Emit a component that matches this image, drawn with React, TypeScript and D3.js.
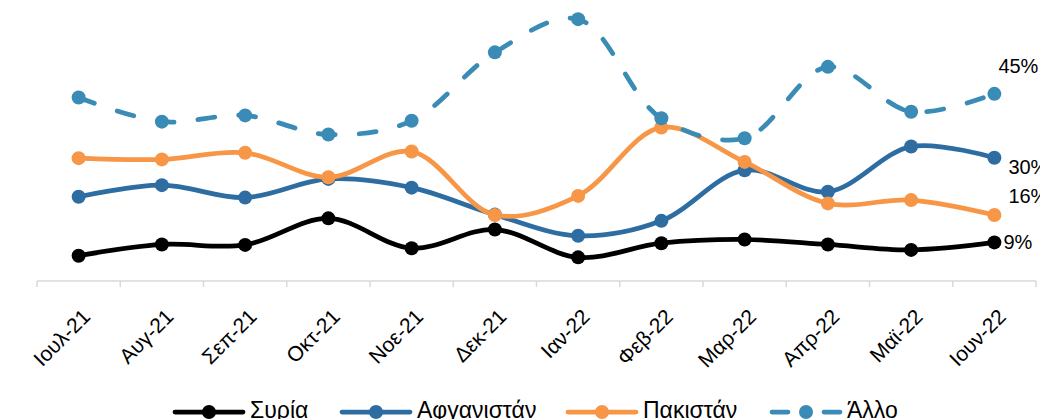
import React from "react";
import * as d3 from "d3";

const months = ["Ιουλ-21", "Αυγ-21", "Σεπ-21", "Οκτ-21", "Νοε-21", "Δεκ-21", "Ιαν-22", "Φεβ-22", "Μαρ-22", "Απρ-22", "Μαϊ-22", "Ιουν-22"];
const syria = [6.1, 8.8, 8.7, 15.1, 7.9, 12.4, 5.7, 9.1, 10.0, 8.8, 7.5, 9.3];
const afghanistan = [20.3, 23.1, 20.1, 24.6, 22.5, 16.0, 10.9, 14.5, 26.7, 21.5, 32.4, 29.7];
const pakistan = [29.6, 29.3, 30.9, 25.0, 31.2, 15.9, 20.5, 37.0, 28.7, 18.7, 19.5, 15.9];
const other = [44.2, 38.4, 39.9, 35.3, 38.6, 55.1, 63.1, 39.2, 34.4, 51.6, 40.8, 45.1];

const seriesNames = ["Συρία", "Αφγανιστάν", "Πακιστάν", "Άλλο"];
const seriesValues = [syria, afghanistan, pakistan, other];
const seriesColors = ["#000000", "#2E6DA2", "#F79646", "#3A8BB5"];
const seriesDashed = [false, false, false, true];
// end label offsets (dx, dy) relative to last point
const labelOffsets: [number, number][] = [[9, 7], [14, 16], [14, -12], [4, -21]];
const legendX = [175, 342, 568, 772];

const FONT = "'Liberation Sans', Arial, sans-serif";

export default function App() {
  const width = 1040;
  const height = 419;
  const x = d3.scaleBand<string>().domain(months).range([37, 1036]);
  const y = d3.scaleLinear().domain([0, 60]).range([281, 281 - 60 * 4.15]);
  const cx = (m: string) => (x(m) ?? 0) + x.bandwidth() / 2;
  const line = d3
    .line<number>()
    .x((_, i) => cx(months[i]))
    .y((d) => y(d))
    .curve(d3.curveCatmullRom.alpha(0.5));

  const tickXs = [...months.map((m) => x(m) ?? 0), 1036];
  const axisY = y(0);

  return (
    <svg width={width} height={height} style={{ position: "absolute", left: 0, top: 0 }}>
      <rect x={0} y={0} width={width} height={height} fill="#ffffff" />
      <line x1={37} x2={1036} y1={axisY} y2={axisY} stroke="#d9d9d9" strokeWidth={1.5} />
      {tickXs.map((t, i) => (
        <line key={i} x1={t} x2={t} y1={axisY} y2={axisY + 6} stroke="#d9d9d9" strokeWidth={1.5} />
      ))}
      {months.map((m) => (
        <text
          key={m}
          transform={`translate(${cx(m) + 13},${axisY + 37}) rotate(-45)`}
          textAnchor="end"
          fontFamily={FONT}
          fontSize={21}
          fill="#000"
        >
          {m}
        </text>
      ))}
      {seriesValues.map((vals, s) => (
        <g key={s}>
          <path
            d={line(vals) ?? ""}
            fill="none"
            stroke={seriesColors[s]}
            strokeWidth={4.75}
            strokeLinecap="round"
            strokeLinejoin="round"
            strokeDasharray={seriesDashed[s] ? "17 24" : undefined}
          />
          {vals.map((v, i) => (
            <circle key={i} cx={cx(months[i])} cy={y(v)} r={7} fill={seriesColors[s]} />
          ))}
          <text
            x={cx(months[months.length - 1]) + labelOffsets[s][0]}
            y={y(vals[vals.length - 1]) + labelOffsets[s][1]}
            fontFamily={FONT}
            fontSize={20}
            fill="#000"
          >
            {`${Math.round(vals[vals.length - 1])}%`}
          </text>
        </g>
      ))}
      {seriesNames.map((name, s) => (
        <g key={name} transform={`translate(${legendX[s]},412)`}>
          <line
            x1={0}
            x2={68}
            y1={0}
            y2={0}
            stroke={seriesColors[s]}
            strokeWidth={4.75}
            strokeLinecap="round"
            strokeDasharray={seriesDashed[s] ? "16 36" : undefined}
          />
          <circle cx={34} cy={0} r={7} fill={seriesColors[s]} />
          <text x={75} y={6} fontFamily={FONT} fontSize={23} fill="#000">
            {name}
          </text>
        </g>
      ))}
    </svg>
  );
}
